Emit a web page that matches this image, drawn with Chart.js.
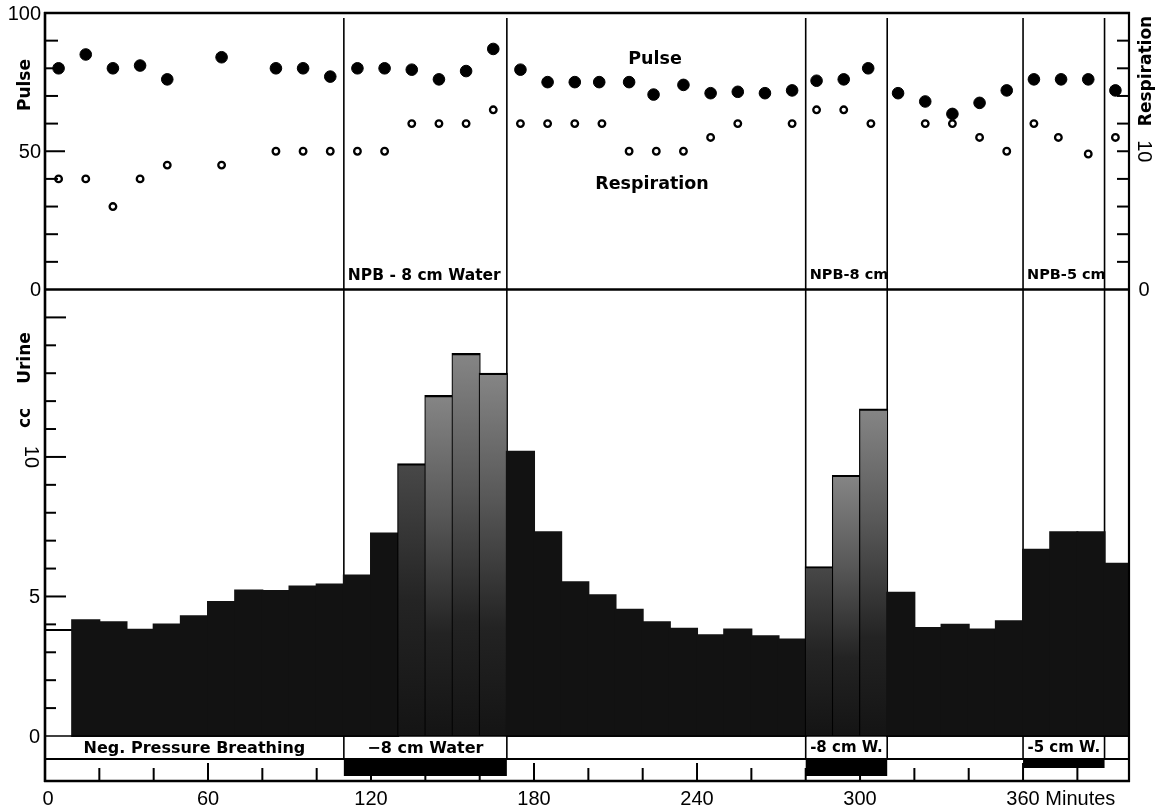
<!DOCTYPE html>
<html>
<head>
<meta charset="utf-8">
<script src="https://cdn.jsdelivr.net/npm/chart.js@4.4.1/dist/chart.umd.min.js"></script>
<style>
html,body{margin:0;padding:0;background:#fff;}
canvas{display:block;}
</style>
</head>
<body>
<canvas id="c" width="1167" height="812"></canvas>
<script>
// ---------------- data ----------------
const pulseMinutes = [5,15,25,35,45,65,85,95,105,115,125,135,145,155,165,175,185,195,204,215,224,235,245,255,265,275,284,294,303,314,324,334,344,354,364,374,384,394];
const pulseRate    = [80,85,80,81,76,84,80,80,77,80,80,79.5,76,79,87,79.5,75,75,75,75,70.5,74,71,71.5,71,72,75.5,76,80,71,68,63.5,67.5,72,76,76,76,72];

const respMinutes = [5,15,25,35,45,65,85,95,105,115,125,135,145,155,165,175,185,195,205,215,225,235,245,255,275,284,294,304,324,334,344,354,364,373,384,394];
const respRate    = [8,8,6,8,9,9,10,10,10,10,10,12,12,12,13,12,12,12,12,10,10,10,11,12,12,13,13,12,12,12,11,10,12,11,9.8,11];

const urineBinStart = [0,10,20,30,40,50,60,70,80,90,100,110,120,130,140,150,160,170,180,190,200,210,220,230,240,250,260,270,280,290,300,310,320,330,340,350,360,370,380,390];
const urineCc       = [3.8,4.15,4.08,3.81,4.0,4.29,4.8,5.21,5.2,5.36,5.43,5.75,7.26,9.74,12.18,13.69,12.98,10.19,7.3,5.51,5.04,4.52,4.08,3.84,3.61,3.82,3.57,3.46,6.05,9.32,11.7,5.13,3.87,3.99,3.82,4.11,6.67,7.3,7.3,6.17];

const npbPeriods   = [[110,170],[280,310],[360,390]];
const npbTopLabels = ['NPB - 8 cm Water','NPB-8 cm','NPB-5 cm'];
const npbRowLabels = ['\u22128 cm Water','-8 cm W.','-5 cm W.'];
const baselineLabel = 'Neg. Pressure Breathing';

const xTickValues = [0,60,120,180,240,300,360];
const xTickLabels = ['0','60','120','180','240','300','360 Minutes'];
const pulseTickValues = [0,50,100];
const pulseTickLabels = ['0','50','100'];
const respTickValues = [0,10];
const respTickLabels = ['0','10'];
const urineTickValues = [0,5,10];
const urineTickLabels = ['0','5','10'];

// ---------------- styles / layout ----------------
const barTone = urineBinStart.map((s,i)=> i===0 ? 'none' : ([14,15,16,29,30].includes(i) ? 'light' : ([13,28].includes(i) ? 'mid' : 'dark')));
const stripBarHeight = [17,17,9];
const AREA = {left:45, right:1129, top:13, bottom:781};
const SPLIT_PX = 289.5;      // bottom line of the pulse panel
const URINE_ZERO_PX = 736;
const ROW_H = 23;

const pPPU = (SPLIT_PX-AREA.top)/100;
const rPPU = (SPLIT_PX-AREA.top)/20;
const uPPU = (URINE_ZERO_PX-SPLIT_PX)/16;
const pulseMin = -(AREA.bottom-SPLIT_PX)/pPPU;
const respMin = -(AREA.bottom-SPLIT_PX)/rPPU;
const urineMax = (URINE_ZERO_PX-AREA.top)/uPPU;
const urineMin = -(AREA.bottom-URINE_ZERO_PX)/uPPU;

const NUM_FONT = '20px "Liberation Sans", Arial, sans-serif';
const LAB = (s)=> 'bold '+s+'px "DejaVu Sans", sans-serif';
const DARK = '#121212';

function barFill(c){
  const i = c.dataIndex;
  const tone = barTone[i];
  if (tone === 'none') return '#ffffff';
  if (tone === 'dark') return DARK;
  const chart = c.chart, ys = chart.scales && chart.scales.yU;
  if (!ys || !chart.chartArea) return DARK;
  const top = ys.getPixelForValue(urineCc[i]);
  const bot = ys.getPixelForValue(0);
  const g = chart.ctx.createLinearGradient(0, top, 0, bot);
  if (tone === 'light') {
    g.addColorStop(0, '#858585'); g.addColorStop(0.35, '#575757');
    g.addColorStop(0.7, '#232323'); g.addColorStop(1, '#141414');
  } else {
    g.addColorStop(0, '#484848'); g.addColorStop(0.5, '#242424'); g.addColorStop(1, '#141414');
  }
  return g;
}
function barBorder(c){
  const tone = barTone[c.dataIndex];
  if (tone === 'none') return {top:2, left:0, right:0, bottom:0};
  if (tone === 'dark') return 0;
  return {top:2.2, left:1.2, right:1.2, bottom:0};
}

function rotText(ctx, txt, x, y, ang){
  ctx.save(); ctx.translate(x,y); ctx.rotate(ang); ctx.fillText(txt,0,0); ctx.restore();
}

const deco = {
  id:'deco',
  beforeDatasetsDraw(chart){
    const {ctx, chartArea:a, scales:{x, yU}} = chart;
    const rowB = yU.getPixelForValue(0) + ROW_H;
    ctx.save();
    ctx.strokeStyle = '#000'; ctx.lineWidth = 1.6;
    npbPeriods.forEach(p => p.forEach(t => {
      const px = x.getPixelForValue(t);
      ctx.beginPath(); ctx.moveTo(px, a.top+5); ctx.lineTo(px, rowB); ctx.stroke();
    }));
    ctx.restore();
  },
  afterDatasetsDraw(chart){
    const {ctx, chartArea:a, scales:{x, yP, yR, yU}} = chart;
    const z = yU.getPixelForValue(0);
    const rowB = z + ROW_H;
    const split = yP.getPixelForValue(0);
    ctx.save();
    ctx.strokeStyle = '#000'; ctx.fillStyle = '#000';
    // white label row
    ctx.fillStyle = '#fff'; ctx.fillRect(a.left, z+1, a.right-a.left, ROW_H-1); ctx.fillStyle = '#000';
    // NPB box edges through the row
    ctx.lineWidth = 1.6;
    npbPeriods.forEach(p => p.forEach(t => {
      const px = x.getPixelForValue(t);
      ctx.beginPath(); ctx.moveTo(px, z); ctx.lineTo(px, rowB); ctx.stroke();
    }));
    // ticks: pulse (left, inside)
    ctx.lineWidth = 2;
    for (let v=10; v<100; v+=10){
      const py = yP.getPixelForValue(v), L = v===50 ? 20 : 13;
      ctx.beginPath(); ctx.moveTo(a.left, py); ctx.lineTo(a.left+L, py); ctx.stroke();
    }
    // ticks: respiration (right, inside)
    for (let v=2; v<20; v+=2){
      const py = yR.getPixelForValue(v), L = 12;
      ctx.beginPath(); ctx.moveTo(a.right, py); ctx.lineTo(a.right-L, py); ctx.stroke();
    }
    // ticks: urine (left, inside)
    for (let v=1; v<16; v++){
      const py = yU.getPixelForValue(v), L = v%5===0 ? 21 : 11;
      ctx.beginPath(); ctx.moveTo(a.left, py); ctx.lineTo(a.left+L, py); ctx.stroke();
    }
    // ticks: minutes (bottom, pointing up)
    for (let t=20; t<400; t+=20){
      const px = x.getPixelForValue(t), L = t%60===0 ? 18 : 13;
      ctx.beginPath(); ctx.moveTo(px, a.bottom); ctx.lineTo(px, a.bottom-L); ctx.stroke();
    }
    // black NPB bars in the strip
    npbPeriods.forEach(([s,e],k) => {
      const x0 = x.getPixelForValue(s), x1 = x.getPixelForValue(e);
      ctx.fillRect(x0, rowB, x1-x0, stripBarHeight[k]);
    });
    // frame lines
    const hline = (y,w)=>{ ctx.lineWidth=w; ctx.beginPath(); ctx.moveTo(a.left-1, y); ctx.lineTo(a.right+1, y); ctx.stroke(); };
    hline(a.top, 2.6);
    hline(split, 2.6);
    hline(z, 1.6);
    hline(rowB, 2);
    hline(a.bottom, 2.6);
    ctx.lineWidth = 2.6;
    ctx.beginPath(); ctx.moveTo(a.left, a.top-1); ctx.lineTo(a.left, a.bottom+1); ctx.stroke();
    ctx.lineWidth = 2.2;
    ctx.beginPath(); ctx.moveTo(a.right, a.top-1); ctx.lineTo(a.right, a.bottom+1); ctx.stroke();
    ctx.restore();
  },
  afterDraw(chart){
    const {ctx, chartArea:a, scales:{x, yP, yR, yU}} = chart;
    const z = yU.getPixelForValue(0);
    const split = yP.getPixelForValue(0);
    ctx.save();
    ctx.fillStyle = '#000';
    // numeric tick labels
    ctx.font = NUM_FONT; ctx.textBaseline = 'middle';
    xTickValues.forEach((v,i) => {
      const px = x.getPixelForValue(v) + (v===0 ? 3 : 0);
      const lab = xTickLabels[i];
      const first = lab.split(' ')[0];
      const w = ctx.measureText(first).width;
      ctx.textAlign = 'left';
      ctx.fillText(lab, px - w/2, a.bottom + 18);
    });
    ctx.textAlign = 'right';
    pulseTickValues.forEach((v,i) => ctx.fillText(pulseTickLabels[i], a.left-4, yP.getPixelForValue(v)+1));
    urineTickValues.forEach((v,i) => {
      const py = yU.getPixelForValue(v);
      if (urineTickLabels[i].length > 1) { ctx.textAlign='center'; rotText(ctx, urineTickLabels[i], 31, py, Math.PI/2); ctx.textAlign='right'; }
      else ctx.fillText(urineTickLabels[i], a.left-5, py+1);
    });
    ctx.textAlign = 'center';
    respTickValues.forEach((v,i) => {
      const py = yR.getPixelForValue(v);
      if (respTickLabels[i].length > 1) rotText(ctx, respTickLabels[i], a.right+15, py, Math.PI/2);
      else ctx.fillText(respTickLabels[i], a.right+15, py+1);
    });
    // axis titles
    ctx.font = LAB(17); ctx.textAlign = 'center';
    rotText(ctx, 'Pulse', 26, 85, -Math.PI/2);
    rotText(ctx, 'Urine', 26, 358, -Math.PI/2);
    rotText(ctx, 'cc', 26, 418, -Math.PI/2);
    rotText(ctx, 'Respiration', a.right+18, 71, -Math.PI/2);
    // series labels
    ctx.font = LAB(17.5);
    ctx.fillText('Pulse', 655, 59);
    ctx.fillText('Respiration', 652, 184);
    // NPB labels in the pulse panel
    ctx.textAlign = 'left';
    npbPeriods.forEach(([s,e],k) => {
      ctx.font = LAB(k===0 ? 15.5 : 14.5);
      ctx.fillText(npbTopLabels[k], x.getPixelForValue(s)+4, split-14);
    });
    // label row
    ctx.textAlign = 'center';
    ctx.font = LAB(16);
    ctx.fillText(baselineLabel, (a.left + x.getPixelForValue(npbPeriods[0][0]))/2, z + ROW_H/2 + 1);
    npbPeriods.forEach(([s,e],k) => {
      ctx.font = LAB(k===0 ? 16 : 15);
      ctx.fillText(npbRowLabels[k], (x.getPixelForValue(s)+x.getPixelForValue(e))/2, z + ROW_H/2 + 1);
    });
    ctx.restore();
  }
};

new Chart(document.getElementById('c'), {
  type: 'bar',
  data: {
    datasets: [
      {
        type: 'line', label: 'Pulse', xAxisID: 'x', yAxisID: 'yP',
        data: pulseMinutes.map((t,i)=>({x:t, y:pulseRate[i]})),
        showLine: false, pointRadius: 5.8, pointBorderWidth: 1,
        pointBackgroundColor: '#000', pointBorderColor: '#000', order: 0
      },
      {
        type: 'line', label: 'Respiration', xAxisID: 'x', yAxisID: 'yR',
        data: respMinutes.map((t,i)=>({x:t, y:respRate[i]})),
        showLine: false, pointRadius: 3.3, pointBorderWidth: 2.3,
        pointBackgroundColor: '#fff', pointBorderColor: '#000', order: 1
      },
      {
        type: 'bar', label: 'cc Urine', xAxisID: 'x', yAxisID: 'yU',
        data: urineBinStart.map((s,i)=>({x:s+5, y:urineCc[i]})),
        barPercentage: 1, categoryPercentage: 1,
        backgroundColor: barFill,
        borderColor: '#000',
        borderWidth: barBorder,
        inflateAmount: 1,
        borderSkipped: 'start', order: 2
      }
    ]
  },
  options: {
    responsive: false, animation: false, events: [],
    layout: { padding: { left: AREA.left, right: 1167-AREA.right, top: AREA.top, bottom: 812-AREA.bottom } },
    plugins: { legend: {display:false}, tooltip: {enabled:false} },
    scales: {
      x:  { type:'linear', min:0, max:399, offset:false, display:false },
      yP: { type:'linear', min:pulseMin, max:100, display:false },
      yR: { type:'linear', min:respMin, max:20, display:false },
      yU: { type:'linear', min:urineMin, max:urineMax, display:false, beginAtZero:false }
    }
  },
  plugins: [deco]
});
</script>
</body>
</html>
